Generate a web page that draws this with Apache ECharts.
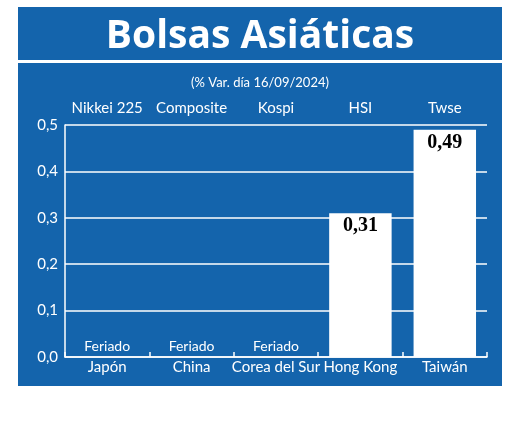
<!DOCTYPE html>
<html>
<head>
<meta charset="utf-8">
<script src="https://cdn.jsdelivr.net/npm/echarts@6/dist/echarts.min.js"></script>
<style>
html, body { margin: 0; padding: 0; background: #fff; }
#chart { width: 520px; height: 421px; }
</style>
</head>
<body>
<div id="chart"></div>
<script>
// datos del gráfico
const indices = ["Nikkei 225", "Composite", "Kospi", "HSI", "Twse"];
const paises = ["Japón", "China", "Corea del Sur", "Hong Kong", "Taiwán"];
const variacion = [0, 0, 0, 0.31, 0.49];
const notas = ["Feriado", "Feriado", "Feriado", "", ""];
const yTicks = [0, 0.1, 0.2, 0.3, 0.4, 0.5];

const azul = "#1464ac";
const fuente = "Lato";

const chart = echarts.init(document.getElementById("chart"));

let barData = variacion.map((v, i) => {
	if (notas[i]) {
		return {
			value: v,
			label: {
				show: true,
				position: "top",
				distance: 4,
				formatter: notas[i],
				color: "#fff",
				fontFamily: fuente,
				fontSize: 14,
			},
		};
	}
	return {
		value: v,
		label: {
			show: true,
			position: "insideTop",
			distance: 3,
			formatter: (p) => p.value.toFixed(2).replace(".", ","),
			color: "#000",
			fontFamily: "Liberation Serif",
			fontWeight: "bold",
			fontSize: 20,
		},
	};
});

let option = {
	backgroundColor: "#fff",
	animation: false,
	graphic: [
		{ type: "rect", shape: { x: 18, y: 7, width: 484, height: 379 }, style: { fill: azul }, z: -10 },
		{ type: "rect", shape: { x: 18, y: 60, width: 484, height: 3 }, style: { fill: "#fff" }, z: -9 },
	],
	title: [
		{
			text: "Bolsas Asiáticas",
			left: "center",
			top: 12,
			textStyle: { color: "#fff", fontFamily: "Open Sans", fontWeight: "bold", fontSize: 39 },
		},
		{
			text: "(% Var. día 16/09/2024)",
			left: "center",
			top: 71,
			textStyle: { color: "#fff", fontFamily: fuente, fontWeight: "normal", fontSize: 13 },
		},
	],
	grid: { left: 65, right: 33, top: 125, bottom: 64 },
	xAxis: [
		{
			type: "category",
			data: paises,
			position: "bottom",
			axisLine: { show: true, lineStyle: { color: "#fff", width: 1.5 } },
			axisTick: { show: true, inside: true, length: 5, lineStyle: { color: "#fff", width: 1.5 } },
			axisLabel: { interval: 0, color: "#fff", fontFamily: fuente, fontSize: 15, margin: 3 },
		},
		{
			type: "category",
			data: indices,
			position: "top",
			axisLine: { show: false },
			axisTick: { show: false },
			axisLabel: { interval: 0, color: "#fff", fontFamily: fuente, fontSize: 15, margin: 9 },
		},
	],
	yAxis: {
		type: "value",
		min: yTicks[0],
		max: yTicks[yTicks.length - 1],
		interval: 0.1,
		axisLine: { show: true, lineStyle: { color: "#fff", width: 1.5 } },
		axisTick: { show: false },
		splitLine: { show: true, lineStyle: { color: "#fff", width: 1.5 } },
		axisLabel: {
			color: "#fff",
			fontFamily: fuente,
			fontSize: 15,
			margin: 7,
			formatter: (v) => v.toFixed(1).replace(".", ","),
		},
	},
	series: [
		{
			type: "bar",
			xAxisIndex: 0,
			data: barData,
			barWidth: "74%",
			itemStyle: { color: "#fff" },
			z: 3,
		},
	],
};
chart.setOption(option, true);
</script>
</body>
</html>
